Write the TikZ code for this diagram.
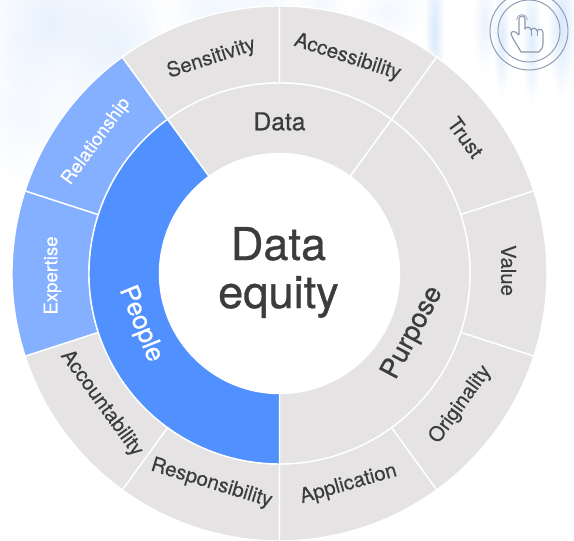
\documentclass[tikz,border=0pt]{standalone}
\usepackage{fontspec}
\setmainfont[FakeBold=0.25]{TeX Gyre Heros}
\newfontface\titleface[FakeBold=0.7]{TeX Gyre Heros}
\usetikzlibrary{fadings}
\definecolor{ringgrey}{RGB}{229,227,228}
\definecolor{peopleblue}{RGB}{80,144,255}
\definecolor{lightpeople}{RGB}{133,176,255}
\definecolor{darktext}{RGB}{60,60,60}
\definecolor{iconline}{RGB}{140,153,176}
\definecolor{hazeblue}{RGB}{160,198,248}
\tikzfading[name=blobfade, inner color=transparent!0, outer color=transparent!100]
\begin{document}
\begin{tikzpicture}[x=0.03cm, y=0.03cm,
    segment/.style={draw=white, line width=1.2pt, line join=round},
    outerlabel/.style={text=darktext, font=\fontsize{17.4}{20}\selectfont},
    whitelabel/.style={text=white, font=\fontsize{15.9}{20}\selectfont},
    ringlabel/.style={text=darktext, font=\titleface\fontsize{21}{25}\selectfont},
    iconstroke/.style={draw=iconline, line width=0.8pt}]
    \useasboundingbox (-279.5,-267.5) rectangle (294.5,273.5);

    % Background haze
    \foreach \hx/\hy/\rx/\ry/\op in {-230/250/70/80/.25, -160/225/55/100/.22, -70/250/45/70/.18, -20/255/40/60/.15,
        -262/165/40/80/.12, -200/150/60/60/.13, 40/265/30/50/.12, 155/245/10/75/.4, 205/250/12/50/.22,
        222/235/9/60/.35, 252/235/10/70/.32, 282/250/14/75/.42, 110/262/40/30/.13} {
        \fill[hazeblue, path fading=blobfade, opacity=\op] (\hx,\hy) ellipse [x radius=\rx, y radius=\ry];
    }

    % Outer ring
    \foreach \a/\b/\col in {90/54/ringgrey, 54/18/ringgrey, 18/-18/ringgrey, -18/-54/ringgrey, -54/-90/ringgrey,
        -90/-126/ringgrey, -126/-162/ringgrey, -162/-198/lightpeople, -198/-234/lightpeople, -234/-270/ringgrey} {
        \filldraw[segment, fill=\col] (\a:190.5) -- (\a:267.5) arc (\a:\b:267.5) -- (\b:190.5) arc (\b:\a:190.5) -- cycle;
    }

    % Middle ring
    \filldraw[segment, fill=ringgrey] (54:120) -- (54:190.5) arc (54:-90:190.5) -- (-90:120) arc (-90:54:120) -- cycle;
    \filldraw[segment, fill=ringgrey] (126:120) -- (126:190.5) arc (126:54:190.5) -- (54:120) arc (54:126:120) -- cycle;
    \filldraw[segment, fill=peopleblue] (126:120) -- (126:190.5) arc (126:270:190.5) -- (270:120) arc (270:126:120) -- cycle;

    % Outer labels
    \node[outerlabel, rotate=18] (sensitivity) at (-68,215) {Sensitivity};
    \node[outerlabel, rotate=-18] (accessibility) at (68,216) {Accessibility};
    \node[outerlabel, rotate=-54] (trust) at (186,136) {Trust};
    \node[outerlabel, rotate=-90] (value) at (229,3) {Value};
    \node[outerlabel, rotate=54] (originality) at (181,-131) {Originality};
    \node[outerlabel, rotate=16] (application) at (69,-211) {Application};
    \node[outerlabel, rotate=-17] (responsibility) at (-68,-210) {Responsibility};
    \node[outerlabel, rotate=-54] (accountability) at (-178,-130) {Accountability};
    \node[whitelabel, rotate=90] (expertise) at (-227,-2) {Expertise};
    \node[whitelabel, rotate=54] (relationship) at (-183,132) {Relationship};

    % Middle labels
    \node[ringlabel] (data) at (90:152) {Data};
    \node[ringlabel, rotate=62, font=\titleface\fontsize{23}{25}\selectfont] (purpose) at (-24:146) {Purpose};
    \node[ringlabel, rotate=-68, text=white, font=\titleface\fontsize{22}{25}\selectfont] (people) at (-160:148) {People};

    % Centre title
    \node[text=darktext, align=center, font=\titleface\fontsize{38.5}{41}\selectfont] (title) at (-1,1) {Data\\equity};

    % Touch icon
    \begin{scope}[shift={(-279.5,273.5)}, yscale=-1]
        \draw[iconstroke] (529,31) circle (39);
        \draw[iconstroke] (529,31) circle (31);
        \draw[iconstroke, line width=1pt, line join=round] (519,35) -- (519,19) arc (180:360:3) -- (525,29)
            .. controls (527,26) and (530,27) .. (531,30) .. controls (533,27) and (536,28) .. (537,31)
            .. controls (539,28) and (543,29) .. (543,33) -- (543,43) .. controls (543,48) and (541,50) .. (539,52)
            -- (521,52) .. controls (518,46) and (513,40) .. (511,34) .. controls (511,31) and (515,30) .. (519,35);
        \draw[iconstroke, line width=0.6pt] (531,30) -- (531,36) (537,31) -- (537,36);
        \draw[iconstroke, line width=0.5pt] (516.5,20) arc (180:360:5.5);
    \end{scope}
\end{tikzpicture}
\end{document}
